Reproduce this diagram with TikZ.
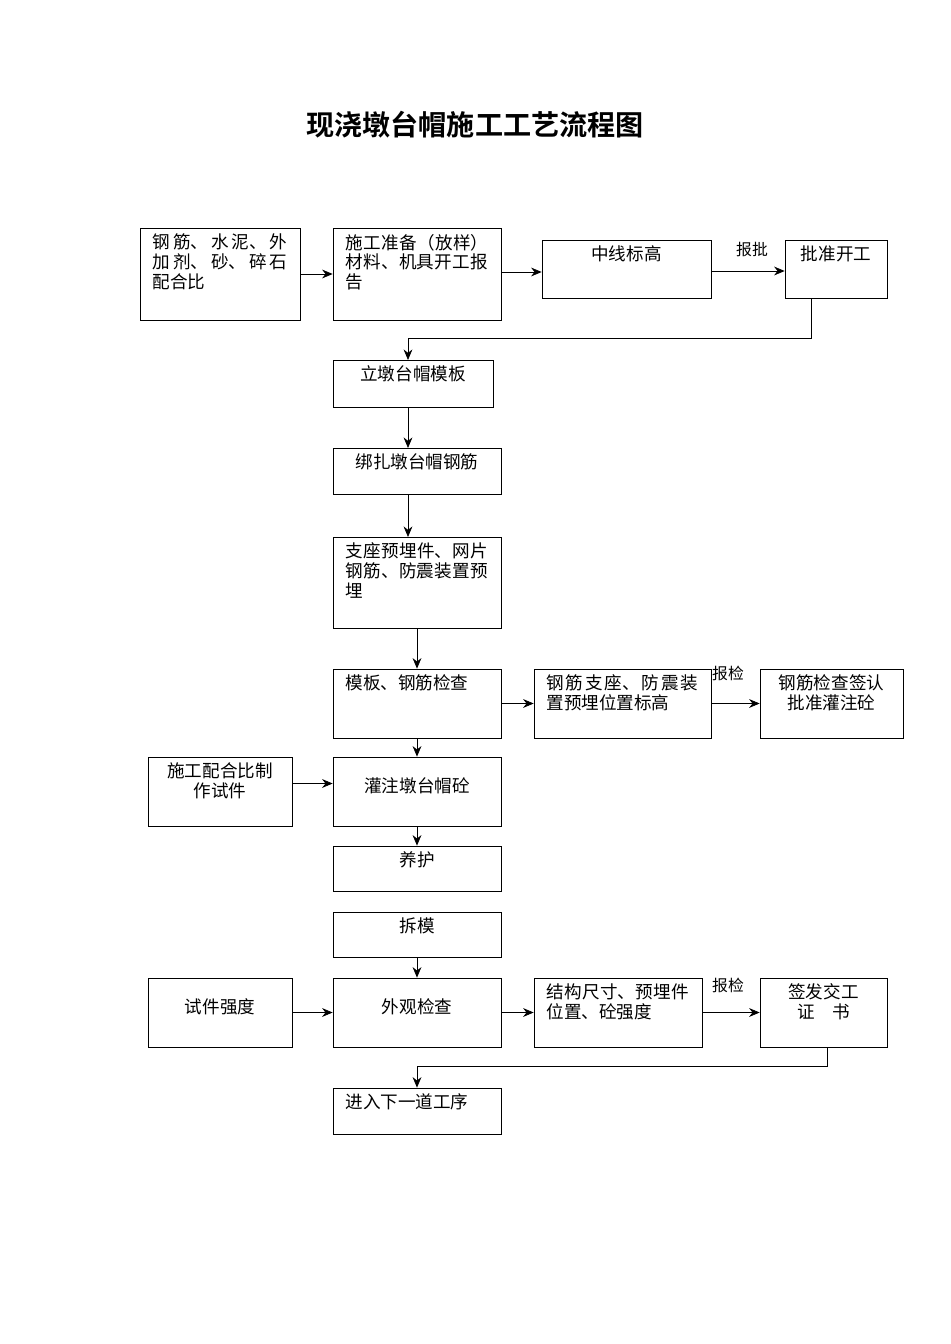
\documentclass[tikz,border=0pt]{standalone}
\usepackage{fontspec}
\setmainfont{Noto Sans CJK SC}[BoldFont={Noto Sans CJK SC Bold}]
\XeTeXlinebreaklocale "zh"
\XeTeXlinebreakskip=0pt plus 1pt
\usetikzlibrary{arrows.meta}

\begin{document}
\begin{tikzpicture}[
  x=0.02cm, y=-0.02cm,
  thin,
  box/.style={draw, rectangle, inner sep=0pt},
  arr/.style={-{Stealth[length=6pt,width=5pt]}},
  note/.style={font=\fontsize{9pt}{11pt}\selectfont},
]
  \useasboundingbox (0,0) rectangle (950,1344);

  % box macro: name, x1, y1, x2, y2, alignment, text
  \newcommand*{\Bx}[7]{
    \pgfmathsetlengthmacro\BoxW{(#4-#2)*0.02cm}
    \pgfmathsetlengthmacro\BoxH{(#5-#3)*0.02cm}
    \pgfmathsetlengthmacro\TxtW{(#4-#2)*0.02cm-0.5cm}
    \node[box] (#1) at ({(#2+#4)/2},{(#3+#5)/2}) {%
      \begin{minipage}[c][\BoxH][t]{\BoxW}\vspace{0.12cm}%
      \hspace*{0.25cm}\begin{minipage}[t]{\TxtW}%
      \fontsize{10pt}{11.2pt}\selectfont#6 #7\end{minipage}\end{minipage}};
  }

  \node[font=\bfseries\fontsize{16pt}{20pt}\selectfont] (title) at (475,125) {现浇墩台帽施工工艺流程图};

  % boxes
  \Bx{mix}{140}{228}{300}{320}{}{钢筋、水泥、外加剂、砂、碎石配合比}
  \Bx{prep}{333}{228}{501}{320}{}{施工准备（放样）材料、机具开工报告}
  \Bx{line}{542}{240}{711}{298}{\centering}{中线标高}
  \Bx{start}{785}{240}{887}{298}{\centering}{批准开工}
  \Bx{form}{333}{360}{493}{407}{\centering}{立墩台帽模板}
  \Bx{bar}{333}{448}{501}{494}{\centering}{绑扎墩台帽钢筋}
  \Bx{embed}{333}{537}{501}{628}{}{支座预埋件、网片钢筋、防震装置预埋}
  \Bx{check}{333}{669}{501}{738}{}{模板、钢筋检查}
  \Bx{pos}{534}{669}{711}{738}{}{钢筋支座、防震装置预埋位置标高}
  \Bx{sign}{760}{669}{903}{738}{\centering}{钢筋检查签认批准灌注砼}
  \Bx{ratio}{148}{757}{292}{826}{\centering}{施工配合比制作试件}
  \Bx{pour}{333}{757}{501}{826}{\centering\vspace*{0.3cm}}{灌注墩台帽砼}
  \Bx{cure}{333}{846}{501}{891}{\centering}{养护}
  \Bx{strip}{333}{912}{501}{957}{\centering}{拆模}
  \Bx{cube}{148}{978}{292}{1047}{\centering\vspace*{0.3cm}}{试件强度}
  \Bx{look}{333}{978}{501}{1047}{\centering\vspace*{0.3cm}}{外观检查}
  \Bx{size}{534}{978}{702}{1047}{}{结构尺寸、预埋件位置、砼强度}
  \Bx{cert}{760}{978}{887}{1047}{\centering}{签发交工\\证\quad 书}
  \Bx{next}{333}{1088}{501}{1134}{}{进入下一道工序}

  % connectors
  \draw[arr] (mix) -- (prep);
  \draw[arr] (prep.east) ++(0,-2) coordinate (p1) -- (p1 -| line.west);
  \draw[arr] (line.east) ++(0,2) coordinate (p2) -- (p2 -| start.west);
  \node[note] (rep1) at (752,250) {报批};
  \coordinate (c1) at (811,338);
  \draw[arr] (start.south -| c1) -- (c1) -- (c1 -| 408,0) -- (408,360);
  \draw[arr] (form.south -| 408,0) -- (408,448);
  \draw[arr] (bar.south -| 408,0) -- (408,537);
  \draw[arr] (embed) -- (check);
  \draw[arr] (check) -- (pos);
  \draw[arr] (pos) -- (sign);
  \node[note] (rep2) at (728,673) {报检};
  \draw[arr] (check) -- (pour);
  \draw[arr] (ratio.east) ++(0,-8) coordinate (p3) -- (p3 -| pour.west);
  \draw[arr] (pour) -- (cure);
  \draw[arr] (strip) -- (look);
  \draw[arr] (cube) -- (look);
  \draw[arr] (look) -- (size);
  \draw[arr] (size) -- (cert);
  \node[note] (rep3) at (728,985) {报检};
  \coordinate (c2) at (827,1066);
  \draw[arr] (cert.south -| c2) -- (c2) -- (c2 -| next.north) -- (next.north);
\end{tikzpicture}
\end{document}
